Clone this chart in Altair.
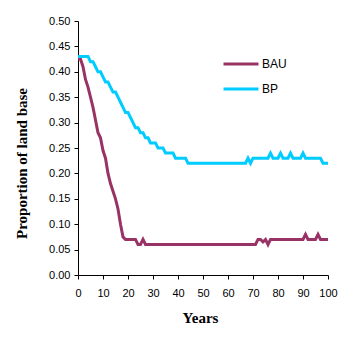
import altair as alt
import pandas as pd

years = list(range(0, 101))

bau = [0.425, 0.425, 0.41, 0.385, 0.37, 0.35, 0.33, 0.305, 0.28, 0.27,
       0.245, 0.23, 0.20, 0.18, 0.165, 0.15, 0.13, 0.10, 0.075, 0.07,
       0.07, 0.07, 0.07, 0.07, 0.06, 0.06, 0.07, 0.06, 0.06, 0.06,
       0.06, 0.06, 0.06, 0.06, 0.06, 0.06, 0.06, 0.06, 0.06, 0.06,
       0.06, 0.06, 0.06, 0.06, 0.06, 0.06, 0.06, 0.06, 0.06, 0.06,
       0.06, 0.06, 0.06, 0.06, 0.06, 0.06, 0.06, 0.06, 0.06, 0.06,
       0.06, 0.06, 0.06, 0.06, 0.06, 0.06, 0.06, 0.06, 0.06, 0.06,
       0.06, 0.06, 0.07, 0.07, 0.065, 0.07, 0.06, 0.07, 0.07, 0.07,
       0.07, 0.07, 0.07, 0.07, 0.07, 0.07, 0.07, 0.07, 0.07, 0.07,
       0.07, 0.08, 0.07, 0.07, 0.07, 0.07, 0.08, 0.07, 0.07, 0.07,
       0.07]

bp = [0.43, 0.43, 0.43, 0.43, 0.43, 0.42, 0.42, 0.41, 0.40, 0.40,
      0.39, 0.38, 0.38, 0.37, 0.36, 0.36, 0.35, 0.34, 0.33, 0.32,
      0.32, 0.31, 0.30, 0.29, 0.29, 0.28, 0.28, 0.27, 0.27, 0.26,
      0.26, 0.26, 0.25, 0.25, 0.25, 0.24, 0.24, 0.24, 0.24, 0.23,
      0.23, 0.23, 0.23, 0.23, 0.22, 0.22, 0.22, 0.22, 0.22, 0.22,
      0.22, 0.22, 0.22, 0.22, 0.22, 0.22, 0.22, 0.22, 0.22, 0.22,
      0.22, 0.22, 0.22, 0.22, 0.22, 0.22, 0.22, 0.22, 0.23, 0.22,
      0.23, 0.23, 0.23, 0.23, 0.23, 0.23, 0.23, 0.24, 0.23, 0.23,
      0.23, 0.24, 0.23, 0.23, 0.23, 0.24, 0.23, 0.23, 0.23, 0.23,
      0.24, 0.23, 0.23, 0.23, 0.23, 0.23, 0.23, 0.23, 0.22, 0.22,
      0.22]

series_names = ["BAU", "BP"]
series_colors = ["#993366", "#00CCFF"]
x_ticks = [0, 10, 20, 30, 40, 50, 60, 70, 80, 90, 100]
y_ticks = [0.0, 0.05, 0.10, 0.15, 0.20, 0.25, 0.30, 0.35, 0.40, 0.45, 0.50]

df = pd.concat([
    pd.DataFrame({"Year": years, "Value": bau, "Series": "BAU"}),
    pd.DataFrame({"Year": years, "Value": bp, "Series": "BP"}),
])

chart = alt.Chart(df).mark_line(strokeWidth=3).encode(
    x=alt.X("Year:Q",
            scale=alt.Scale(domain=[0, 100], nice=False),
            axis=alt.Axis(values=x_ticks, title="Years", labelPadding=8,
                          labelFlush=False, labelOverlap=False,
                          titleX=122, titleY=47, titleBaseline="alphabetic",
                          titleAlign="center")),
    y=alt.Y("Value:Q",
            scale=alt.Scale(domain=[0, 0.5], nice=False),
            axis=alt.Axis(values=y_ticks, format=".2f", title="Proportion of land base",
                          labelPadding=4, labelFlush=False, labelOverlap=False,
                          titleAngle=270, titleX=-57, titleY=142,
                          titleBaseline="middle", titleAlign="center")),
    color=alt.Color("Series:N",
                    scale=alt.Scale(domain=series_names, range=series_colors),
                    legend=alt.Legend(title=None, orient="none", legendX=144, legendY=24,
                                      symbolType="stroke", symbolSize=1225,
                                      symbolStrokeWidth=3, labelFontSize=12,
                                      labelFont="Liberation Sans", labelColor="black",
                                      labelOffset=2, rowPadding=-14, padding=0)),
).properties(
    width=250, height=254,
    autosize="none",
    padding={"left": 78, "top": 21, "right": 23, "bottom": 79},
    background="white",
).configure_view(stroke=None).configure_axis(
    grid=False, domainColor="black", tickColor="black", tickSize=4,
    labelFont="Liberation Sans", labelFontSize=11, labelColor="black",
    titleFont="Liberation Serif", titleFontSize=15, titleFontWeight="bold",
    titleColor="black",
)

chart.save("out.html", embed_options={"renderer": "svg", "actions": False})
